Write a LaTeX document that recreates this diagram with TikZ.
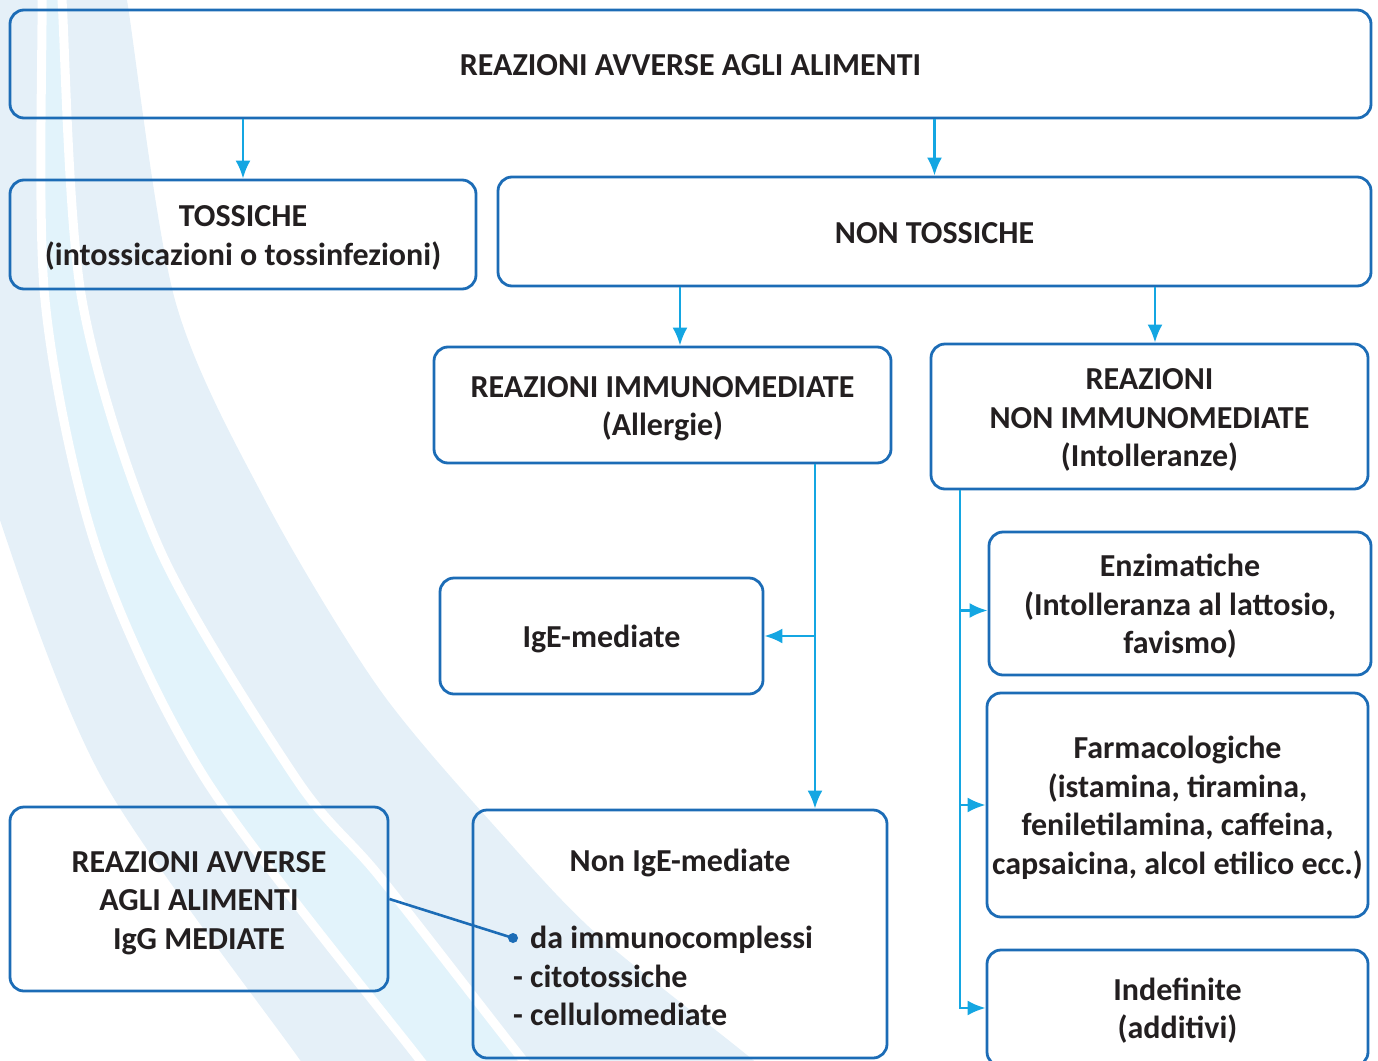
\documentclass[tikz,border=0pt]{standalone}
\usepackage{fontspec}
\setmainfont{Carlito}
\usetikzlibrary{arrows.meta}
\definecolor{boxblue}{RGB}{28,108,182}
\definecolor{arrowblue}{RGB}{20,166,226}
\definecolor{swoosh}{RGB}{229,240,248}
\definecolor{swooshcyan}{RGB}{226,243,251}
\definecolor{ink}{RGB}{35,31,32}
\newcommand{\topstrut}{\rule{0pt}{32pt}}
\tikzset{
  box/.style={draw=boxblue,line width=2.8pt,rounded corners=14pt,align=center,inner sep=0pt,
    text=ink,font=\fontsize{32}{38.5}\selectfont\bfseries,
    execute at end node={\rule[-9pt]{0pt}{0pt}}},
  txt/.style={text=ink,inner sep=0pt,font=\fontsize{32}{38.5}\selectfont\bfseries},
  arr/.style={draw=arrowblue,line width=2.6pt,-{Latex[length=18pt,width=15pt]}},
  link/.style={draw=boxblue,line width=2.6pt},
}
\begin{document}
\begin{tikzpicture}[x=1pt,y=-1pt]
  \useasboundingbox (0,0) rectangle (1378,1060);
  \clip (0,0) rectangle (1378,1060);

  % background swooshes
  \fill[swoosh] (-30,-30) -- (-30,380)
    -- plot[smooth] coordinates {(-30,380) (0,520) (103,780) (300,1060) (320,1090)}
    -- (780,1090)
    -- plot[smooth] coordinates {(780,1090) (753,1060) (600,937) (507,840) (380,690) (265,500) (175,300) (127,0) (120,-30)}
    -- cycle;
  \fill[swooshcyan]
    plot[smooth] coordinates {(40,-30) (42,0) (45,300) (97,550) (206,780) (420,1060) (445,1090)}
    -- plot[smooth] coordinates {(550,1090) (523,1060) (380,877) (297,780) (160,550) (82,300) (62,0) (60,-30)}
    -- cycle;
  \draw[white,line width=9pt] plot[smooth] coordinates {(40,-30) (42,0) (45,300) (97,550) (206,780) (420,1060) (445,1090)};
  \draw[white,line width=9pt] plot[smooth] coordinates {(60,-30) (62,0) (82,300) (160,550) (297,780) (380,877) (523,1060) (550,1090)};

  % boxes
  \node[box,minimum width=1361pt,minimum height=108pt] (top) at (690.5,64) {\topstrut REAZIONI AVVERSE AGLI ALIMENTI};
  \node[box,minimum width=466pt,minimum height=109pt] (toss) at (243,234.5) {\topstrut TOSSICHE\\(intossicazioni o tossinfezioni)};
  \node[box,minimum width=873pt,minimum height=109pt] (nontoss) at (934.5,231.5) {\topstrut NON TOSSICHE};
  \node[box,minimum width=457pt,minimum height=116pt] (immuno) at (662.5,405) {\topstrut REAZIONI IMMUNOMEDIATE\\(Allergie)};
  \node[box,minimum width=437pt,minimum height=145pt] (nonimmuno) at (1149.5,416.5) {\topstrut REAZIONI\\NON IMMUNOMEDIATE\\(Intolleranze)};
  \node[box,minimum width=323pt,minimum height=116pt] (ige) at (601.5,636) {\topstrut IgE-mediate};
  \node[box,minimum width=382pt,minimum height=143pt] (enzim) at (1180,603.5) {\topstrut Enzimatiche\\(Intolleranza al lattosio,\\favismo)};
  \node[box,minimum width=381pt,minimum height=224pt] (farmaco) at (1177.5,805) {\topstrut Farmacologiche\\(istamina, tiramina,\\feniletilamina, caffeina,\\capsaicina, alcol etilico ecc.)};
  \node[box,minimum width=381pt,minimum height=116pt] (indef) at (1177.5,1008) {\topstrut Indefinite\\(additivi)};
  \node[box,minimum width=378pt,minimum height=184pt] (igg) at (199,899) {\topstrut REAZIONI AVVERSE\\AGLI ALIMENTI\\IgG MEDIATE};
  \node[box,minimum width=414pt,minimum height=248pt] (nonige) at (680,934) {};
  \node[txt] (nonigetitle) at (680,863) {Non IgE-mediate};
  \node[txt,align=left,anchor=west] (nonigelist) at (513,976) {\hphantom{-} da immunocomplessi\\- citotossiche\\- cellulomediate};

  % connectors
  \coordinate (c1) at (680,0);
  \coordinate (c2) at (1155,0);
  \coordinate (c3) at (815,0);
  \coordinate (c4) at (960,0);
  \coordinate (enzimin) at ([yshift=-7pt]enzim.west);
  \draw[arr] (toss.north |- top.south) -- (toss.north);
  \draw[arr] (nontoss.north |- top.south) -- (nontoss.north);
  \draw[arr] (c1 |- nontoss.south) -- (c1 |- immuno.north);
  \draw[arr] (c2 |- nontoss.south) -- (c2 |- nonimmuno.north);
  \draw[arr] (c3 |- immuno.south) -- (c3 |- nonige.north);
  \draw[arr] (c3 |- ige.east) -- (ige.east);
  \draw[arr] (c4 |- nonimmuno.south) |- (indef.west);
  \draw[arr] (c4 |- farmaco.west) -- (farmaco.west);
  \draw[arr] (c4 |- enzimin) -- (enzimin);

  \node[circle,fill=boxblue,inner sep=0pt,minimum size=10pt] (dot) at (513,938) {};
  \draw[link] (igg.east) -- (dot.center);
\end{tikzpicture}
\end{document}
